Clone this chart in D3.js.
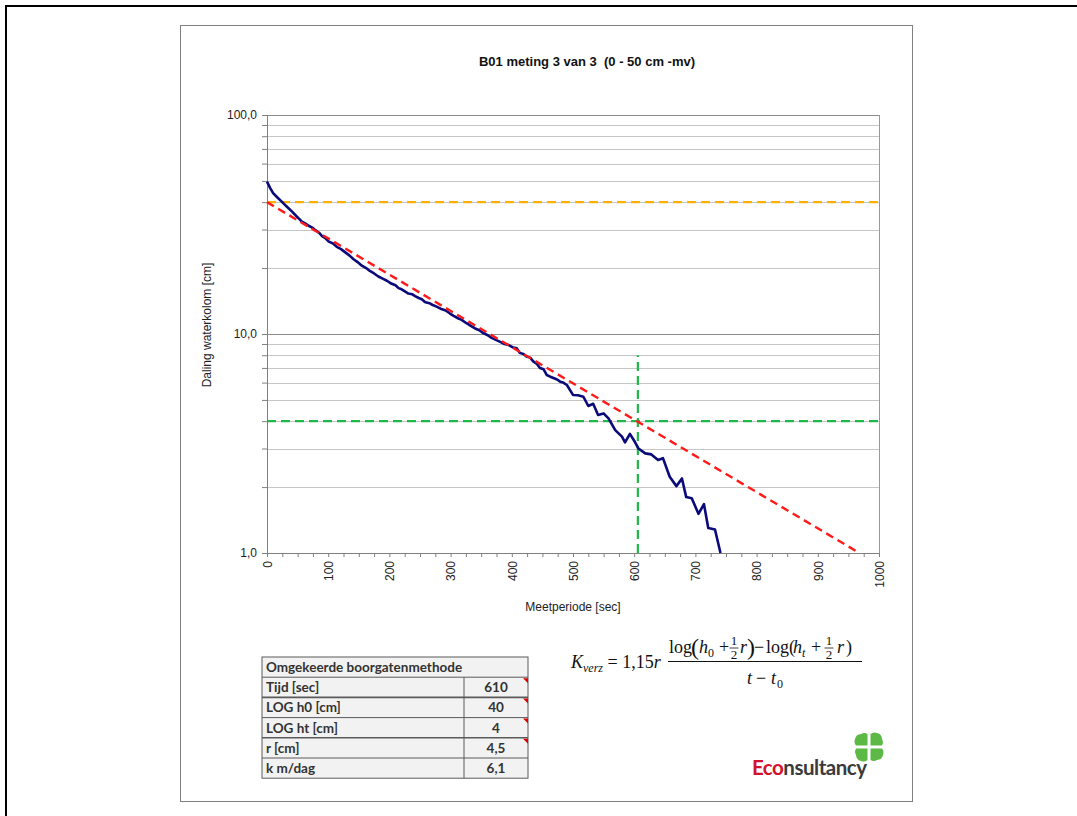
<!DOCTYPE html>
<html>
<head>
<meta charset="utf-8">
<script src="https://cdn.jsdelivr.net/npm/d3@7"></script>
<style>
  body { margin: 0; background: #fff; }
  text { font-family: "Liberation Sans", Arial, sans-serif; white-space: pre; }
</style>
</head>
<body>
<div class="canvas"></div>
<script>
// measured curve: [tijd sec, daling cm]
const meting = [
  [0, 49.6], [5, 46.5], [10, 44.0], [17, 42.0], [24, 40.2], [33, 38.0], [41, 36.2], [49, 34.3],
  [57, 32.6], [63, 31.9], [68, 31.2], [74, 30.6], [79, 29.8], [85, 29.0], [90, 28.0], [96, 27.3],
  [101, 26.4], [108, 25.9], [114, 25.0], [121, 24.4], [128, 23.6], [135, 22.8], [141, 22.0], [148, 21.3],
  [155, 20.5], [162, 20.0], [168, 19.4], [175, 18.9], [182, 18.3], [189, 17.9], [196, 17.5], [203, 17.0],
  [210, 16.7], [215, 16.2], [220, 16.0], [226, 15.6], [231, 15.3], [237, 15.2], [242, 14.9], [248, 14.6],
  [253, 14.4], [258, 14.0], [262, 13.9], [266, 13.8], [270, 13.6], [278, 13.3], [285, 13.0], [292, 12.8],
  [299, 12.4], [305, 12.1], [312, 11.8], [318, 11.6], [326, 11.2], [333, 10.9], [340, 10.6], [347, 10.4],
  [353, 10.1], [360, 9.9], [367, 9.6], [374, 9.4], [381, 9.2], [388, 9.0], [395, 8.9], [401, 8.7],
  [408, 8.6], [413, 8.2], [419, 8.1], [424, 7.9], [430, 7.8], [435, 7.5], [441, 7.3], [446, 7.0],
  [452, 6.9], [457, 6.5], [462, 6.4], [468, 6.3], [474, 6.2], [479, 6.06], [484, 6.0], [490, 5.85],
  [500, 5.27], [508, 5.25], [517, 5.17], [525, 4.69], [533, 4.8], [541, 4.27], [550, 4.34], [558, 4.12],
  [569, 3.64], [580, 3.40], [585, 3.2], [593, 3.5], [601, 3.22], [607, 3.0], [618, 2.85], [628, 2.82],
  [639, 2.66], [647, 2.71], [658, 2.23], [669, 2.02], [678, 2.19], [685, 1.80], [694, 1.78], [705, 1.51],
  [714, 1.67], [721, 1.30], [732, 1.28], [741, 1.0]
];

// helper lines
const trendlijn = [[0, 40], [968, 1]];      // red dashed
const h0lijn = [[0, 40], [1000, 40]];       // orange dashed
const htlijn = [[0, 4], [1000, 4]];         // green horizontal
const tijdlijn = [[606, 1], [606, 8]];      // green vertical

// axis ticks
const yGrid = [1, 2, 3, 4, 5, 6, 7, 8, 9, 10, 20, 30, 40, 50, 60, 70, 80, 90, 100];
const yLabels = [1, 10, 100];
const xLabels = [0, 100, 200, 300, 400, 500, 600, 700, 800, 900, 1000];
const xMinor = d3.range(0, 1001, 25);

// table
const tabelTitel = 'Omgekeerde boorgatenmethode';
const tabelNamen = ['Tijd [sec]', 'LOG h0 [cm]', 'LOG ht [cm]', 'r [cm]', 'k m/dag'];
const tabelWaarden = ['610', '40', '4', '4,5', '6,1'];
const tabelOpmerking = [true, true, true, true, false];

const svg = d3.select('.canvas')
    .append('svg')
    .attr('width', 1077)
    .attr('height', 816);

// outer black frame (open to the right / bottom)
svg.append('path')
    .attr('d', 'M6,816 V6 H1077')
    .attr('fill', 'none')
    .attr('stroke', '#000')
    .attr('stroke-width', 2);

// chart box
svg.append('rect')
    .attr('x', 180.5).attr('y', 25.5)
    .attr('width', 732).attr('height', 776)
    .attr('fill', '#fff')
    .attr('stroke', '#7f7f7f');

// title
svg.append('text')
    .attr('x', 587).attr('y', 66)
    .attr('text-anchor', 'middle')
    .attr('font-size', 13)
    .attr('font-weight', 'bold')
    .attr('fill', '#111')
    .text('B01 meting 3 van 3  (0 - 50 cm -mv)');

// scales
const xScale = d3.scaleLinear().domain([0, 1000]).range([267, 879]);
const yScale = d3.scaleLog().domain([1, 100]).range([553, 115]);

const graph = svg.append('g');

// gridlines
graph.selectAll('line.grid')
    .data(yGrid)
    .enter().append('line')
    .attr('class', 'grid')
    .attr('x1', xScale(0)).attr('x2', xScale(1000))
    .attr('y1', d => Math.round(yScale(d)) + 0.5)
    .attr('y2', d => Math.round(yScale(d)) + 0.5)
    .attr('stroke', d => yLabels.includes(d) ? '#8c8c8c' : '#c6c6c6')
    .attr('stroke-width', 1.2);

// right border of plot area
graph.append('line')
    .attr('x1', xScale(1000) + 0.5).attr('x2', xScale(1000) + 0.5)
    .attr('y1', yScale(100)).attr('y2', yScale(1))
    .attr('stroke', '#9a9a9a');

// y axis
const yAxis = d3.axisLeft(yScale)
    .tickValues(yGrid)
    .tickSize(5)
    .tickFormat(d => yLabels.includes(d) ? d3.format('.1f')(d).replace('.', ',') : '');
const yAxisGroup = graph.append('g')
    .attr('transform', `translate(${xScale(0)},0)`)
    .call(yAxis);
yAxisGroup.select('.domain').attr('stroke', '#808080');
yAxisGroup.selectAll('.tick line').attr('stroke', '#808080');
yAxisGroup.selectAll('text')
    .attr('font-size', 12)
    .attr('fill', '#222')
    .attr('dx', -2)
    .style('font-family', '"Liberation Sans", Arial, sans-serif');

// x axis (minor ticks every 25)
const xAxis = d3.axisBottom(xScale)
    .tickValues(xMinor)
    .tickSize(4)
    .tickSizeOuter(0)
    .tickFormat(d => xLabels.includes(d) ? d : '');
const xAxisGroup = graph.append('g')
    .attr('transform', `translate(0,${yScale(1)})`)
    .call(xAxis);
xAxisGroup.select('.domain').attr('stroke', '#808080');
xAxisGroup.selectAll('.tick line').attr('stroke', '#808080');
xAxisGroup.selectAll('text')
    .attr('transform', 'rotate(-90)')
    .attr('text-anchor', 'end')
    .attr('x', -8).attr('y', 0)
    .attr('dy', '0.35em')
    .attr('font-size', 12)
    .attr('fill', '#222')
    .style('font-family', '"Liberation Sans", Arial, sans-serif');

// axis titles
svg.append('text')
    .attr('transform', 'translate(211,325) rotate(-90)')
    .attr('text-anchor', 'middle')
    .attr('font-size', 12)
    .attr('fill', '#222')
    .text('Daling waterkolom [cm]');

svg.append('text')
    .attr('x', 573).attr('y', 611)
    .attr('text-anchor', 'middle')
    .attr('font-size', 12)
    .attr('fill', '#222')
    .text('Meetperiode [sec]');

// line generator
const line = d3.line()
    .x(d => xScale(d[0]))
    .y(d => yScale(d[1]));

const lijnen = [
  { data: h0lijn, color: '#ffb000', dash: '9,5', w: 2.2 },
  { data: htlijn, color: '#1fb84a', dash: '9,5', w: 2.2 },
  { data: tijdlijn, color: '#1fb84a', dash: '9,5', w: 2.2 },
  { data: meting, color: '#0a0a7a', dash: null, w: 2.6 },
  { data: trendlijn, color: '#ff1a1a', dash: '8,5', w: 2.4 }
];

graph.selectAll('path.serie')
    .data(lijnen)
    .enter().append('path')
    .attr('class', 'serie')
    .attr('d', d => line(d.data))
    .attr('fill', 'none')
    .attr('stroke', d => d.color)
    .attr('stroke-width', d => d.w)
    .attr('stroke-dasharray', d => d.dash)
    .attr('stroke-linejoin', 'round');

// ****************** table
const tab = svg.append('g').attr('transform', 'translate(262,657)');
const tabW = 266, colX = 202, rowH = 20.2;

tab.append('rect')
    .attr('width', tabW).attr('height', rowH * 6)
    .attr('fill', '#f2f2f2')
    .attr('stroke', '#5a5a5a');

tab.append('text')
    .attr('x', 4).attr('y', 15)
    .attr('font-size', 13.5)
    .attr('font-weight', 'bold')
    .attr('fill', '#333')
    .style('font-family', 'Lato, "Open Sans", sans-serif')
    .text(tabelTitel);

const rows = tab.selectAll('g.row')
    .data(tabelNamen)
    .enter().append('g')
    .attr('class', 'row')
    .attr('transform', (d, i) => `translate(0,${rowH * (i + 1)})`);

rows.append('line')
    .attr('x1', 0).attr('x2', tabW)
    .attr('stroke', '#5a5a5a')
    .attr('stroke-width', (d, i) => i % 2 ? 1.6 : 1);

rows.append('line')
    .attr('x1', colX).attr('x2', colX)
    .attr('y1', 0).attr('y2', rowH)
    .attr('stroke', '#5a5a5a');

rows.append('text')
    .attr('x', 4).attr('y', 15)
    .attr('font-size', 13.5)
    .attr('font-weight', 'bold')
    .attr('fill', '#333')
    .style('font-family', 'Lato, "Open Sans", sans-serif')
    .text(d => d);

rows.append('text')
    .attr('x', (colX + tabW) / 2).attr('y', 15)
    .attr('text-anchor', 'middle')
    .attr('font-size', 13.5)
    .attr('font-weight', 'bold')
    .attr('fill', '#333')
    .style('font-family', 'Lato, "Open Sans", sans-serif')
    .text((d, i) => tabelWaarden[i]);

// red comment markers
rows.filter((d, i) => tabelOpmerking[i])
    .append('path')
    .attr('d', `M${tabW - 5},1 H${tabW} V6 Z`)
    .attr('fill', '#e00000');

// ****************** formula
const f = svg.append('g').attr('fill', '#111');
const serif = '"Liberation Serif", "DejaVu Serif", serif';

const ft = (x, y, s, size, italic) => f.append('text')
    .attr('x', x).attr('y', y)
    .attr('font-size', size)
    .attr('font-style', italic ? 'italic' : 'normal')
    .style('font-family', serif)
    .text(s);

const half = (cx) => {
  f.append('text').attr('x', cx).attr('y', 645).attr('text-anchor', 'middle')
      .attr('font-size', 13).style('font-family', serif).text('1');
  f.append('line').attr('x1', cx - 4.5).attr('x2', cx + 4.5).attr('y1', 648).attr('y2', 648)
      .attr('stroke', '#111').attr('stroke-width', 0.8);
  f.append('text').attr('x', cx).attr('y', 659).attr('text-anchor', 'middle')
      .attr('font-size', 13).style('font-family', serif).text('2');
};

// left-hand side as one flowing text
const lhs = f.append('text')
    .attr('x', 571).attr('y', 668)
    .attr('font-size', 18)
    .style('font-family', serif);
lhs.append('tspan').attr('font-style', 'italic').text('K');
lhs.append('tspan').attr('font-style', 'italic').attr('font-size', 12).attr('dy', 4).text('verz');
lhs.append('tspan').attr('dy', -4).text(' = 1,15');
lhs.append('tspan').attr('font-style', 'italic').text('r');

f.append('line')
    .attr('x1', 668).attr('x2', 862)
    .attr('y1', 661.5).attr('y2', 661.5)
    .attr('stroke', '#111').attr('stroke-width', 1);

// numerator
ft(669, 653, 'log', 18, false);
ft(691, 655, '(', 24, false);
ft(699, 653, 'h', 18, true);
ft(708, 657, '0', 12, false);
ft(719, 653, '+', 18, false);
half(734);
ft(740, 653, 'r', 18, true);
ft(747, 655, ')', 24, false);
ft(754, 653, '\u2212', 18, false);
ft(766, 653, 'log(', 18, false);
ft(793, 653, 'h', 18, true);
ft(802, 657, 't', 12, true);
ft(811, 653, '+', 18, false);
half(829);
ft(837, 653, 'r', 18, true);
ft(846, 653, ')', 18, false);

// denominator
ft(747, 684, 't', 18, true);
ft(756, 684, '\u2212', 18, false);
ft(771, 684, 't', 18, true);
ft(777, 688, '0', 12, false);

// ****************** logo
const logo = svg.append('g');
const clover = logo.append('g').attr('transform', 'translate(869,747)');
const leaf = 'M1.5,-1.5 V-13 A6.5,6.5 0 0 1 8,-14 A6.5,6.5 0 0 1 13,-8 A6.5,6.5 0 0 1 13,-1.5 Z';
[0, 90, 180, 270].forEach(a => {
  clover.append('path')
      .attr('d', leaf)
      .attr('transform', `rotate(${a})`)
      .attr('fill', '#5cb946');
});

const logoText = logo.append('text')
    .attr('x', 752).attr('y', 775)
    .attr('font-size', 20.5)
    .attr('font-weight', 'bold')
    .attr('textLength', 115)
    .style('font-family', 'Lato, "Open Sans", sans-serif');
logoText.append('tspan').attr('fill', '#d3122d').text('Eco');
logoText.append('tspan').attr('fill', '#3a3a3a').text('nsultancy');
</script>
</body>
</html>
